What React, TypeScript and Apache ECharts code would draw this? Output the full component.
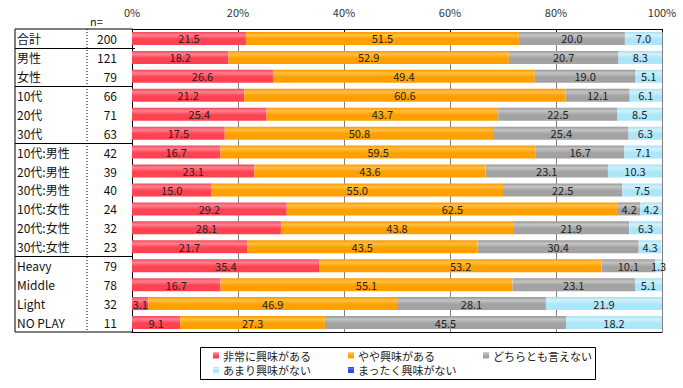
import React, { useEffect, useRef } from "react";
import * as echarts from "echarts";

const categories = ["合計", "男性", "女性", "10代", "20代", "30代", "10代:男性", "20代:男性", "30代:男性", "10代:女性", "20代:女性", "30代:女性", "Heavy", "Middle", "Light", "NO PLAY"];
const sampleSizes = [200, 121, 79, 66, 71, 63, 42, 39, 40, 24, 32, 23, 79, 78, 32, 11];
const seriesNames = ["非常に興味がある", "やや興味がある", "どちらとも言えない", "あまり興味がない", "まったく興味がない"];
const veryInterested = [21.5, 18.2, 26.6, 21.2, 25.4, 17.5, 16.7, 23.1, 15.0, 29.2, 28.1, 21.7, 35.4, 16.7, 3.1, 9.1];
const somewhatInterested = [51.5, 52.9, 49.4, 60.6, 43.7, 50.8, 59.5, 43.6, 55.0, 62.5, 43.8, 43.5, 53.2, 55.1, 46.9, 27.3];
const neither = [20.0, 20.7, 19.0, 12.1, 22.5, 25.4, 16.7, 23.1, 22.5, 4.2, 21.9, 30.4, 10.1, 23.1, 28.1, 45.5];
const notVery = [7.0, 8.3, 5.1, 6.1, 8.5, 6.3, 7.1, 10.3, 7.5, 4.2, 6.3, 4.3, 1.3, 5.1, 21.9, 18.2];
const notAtAll = [0, 0, 0, 0, 0, 0, 0, 0, 0, 0, 0, 0, 0, 0, 0, 0];
const xTicks = [0, 20, 40, 60, 80, 100];

const FONT = "'Noto Sans CJK JP', sans-serif";

const grad = (top: string, mid: string, bot: string) =>
  new echarts.graphic.LinearGradient(0, 0, 0, 1, [
    { offset: 0, color: top },
    { offset: 0.25, color: mid },
    { offset: 0.55, color: bot },
    { offset: 1, color: bot },
  ]);

const colors = [
  grad("#F04858", "#FF8090", "#FF4252"),
  grad("#FF9800", "#FFC040", "#FFA000"),
  grad("#989898", "#C4C4C4", "#A2A2A2"),
  grad("#A8E0F4", "#D0F2FC", "#ACE6FA"),
  grad("#2040E0", "#5070FF", "#2848F0"),
];
const legendColors = ["#F04858", "#FFA000", "#A0A0A0", "#AEE6FA", "#2848F0"];

export default function App() {
  const ref = useRef<HTMLDivElement>(null);
  useEffect(() => {
    const chart = echarts.init(ref.current!, null, { renderer: "svg" });
    const dataSets = [veryInterested, somewhatInterested, neither, notVery, notAtAll];
    const legendPos = [
      [213, 350], [348, 350], [483, 350], [213, 364.5], [348, 364.5],
    ];
    const gridTop = 29, gridBottom = 332, gridLeft = 132;
    const rowH = (gridBottom - gridTop) / categories.length;
    const groupBreaks = [1, 3, 6, 12];
    const graphics: any[] = [
      { type: "line", shape: { x1: 15, y1: gridTop, x2: gridLeft, y2: gridTop }, style: { stroke: "#000", lineWidth: 1 } },
      { type: "line", shape: { x1: 15, y1: gridBottom, x2: gridLeft, y2: gridBottom }, style: { stroke: "#000", lineWidth: 1 } },
      { type: "line", shape: { x1: 15, y1: gridTop, x2: 15, y2: gridBottom }, style: { stroke: "#000", lineWidth: 1 } },
      { type: "line", shape: { x1: 87, y1: gridTop, x2: 87, y2: gridBottom }, style: { stroke: "#000", lineWidth: 1, lineDash: [1, 2] } },
      { type: "text", x: 90, y: 21, style: { text: "n=", font: `11px ${FONT}`, fill: "#222", verticalAlign: "middle" } },
      { type: "rect", shape: { x: 200.5, y: 347.5, width: 395, height: 32 }, style: { fill: "none", stroke: "#000", lineWidth: 1 } },
    ];
    groupBreaks.forEach((k) => {
      const y = Math.round(gridTop + rowH * k) + 0.5;
      graphics.push({ type: "line", shape: { x1: 15, y1: y, x2: gridLeft + (k === 1 ? 3 : 0), y2: y }, style: { stroke: "#000", lineWidth: 1 } });
    });
    chart.setOption({
      animation: false,
      textStyle: { fontFamily: FONT },
      grid: { left: gridLeft, right: 21, top: gridTop, bottom: 388 - gridBottom, containLabel: false },
      legend: seriesNames.map((n, i) => ({
        data: [n],
        left: legendPos[i][0],
        top: legendPos[i][1],
        padding: 0,
        itemWidth: 6,
        itemHeight: 6,
        itemGap: 4,
        icon: "rect",
        selectedMode: false,
        textStyle: { fontSize: 11, color: "#222", fontFamily: FONT, padding: [0, 0, 0, -1] },
      })),
      xAxis: [
        {
          type: "value",
          position: "top",
          min: xTicks[0],
          max: xTicks[xTicks.length - 1],
          interval: xTicks[1] - xTicks[0],
          axisLine: { show: true, lineStyle: { color: "#000", width: 1 } },
          axisTick: { show: true, inside: true, length: 3, lineStyle: { color: "#000" } },
          axisLabel: { formatter: "{value}%", fontSize: 11, color: "#333", margin: 12, fontFamily: FONT },
          splitLine: { show: true, lineStyle: { color: "#808080", width: 1 } },
        },
        {
          type: "value",
          position: "bottom",
          min: 0,
          max: 100,
          interval: 20,
          axisLine: { show: true, lineStyle: { color: "#000", width: 1 } },
          axisTick: { show: false },
          axisLabel: { show: false },
          splitLine: { show: false },
        },
      ],
      yAxis: {
        type: "category",
        inverse: true,
        data: categories,
        axisLine: { show: true, lineStyle: { color: "#000", width: 1 } },
        axisTick: { show: false },
        axisLabel: {
          margin: 15,
          formatter: (v: string, i: number) => `{a|${v}}{b|${sampleSizes[i]}}`,
          rich: {
            a: { width: 70, align: "left", fontSize: 12, color: "#111", fontFamily: FONT },
            b: { width: 30, align: "right", fontSize: 12, color: "#111", fontFamily: FONT },
          },
        },
      },
      series: seriesNames.map((n, i) => ({
        name: n,
        type: "bar",
        stack: "total",
        xAxisIndex: 0,
        barWidth: 13,
        data: dataSets[i],
        itemStyle: { color: colors[i] },
        label: {
          show: true,
          position: "inside",
          fontSize: 11,
          color: "#222",
          fontFamily: FONT,
          formatter: (p: any) => (p.value > 0 ? Number(p.value).toFixed(1) : ""),
        },
        emphasis: { disabled: true },
      })),
      color: legendColors,
      graphic: graphics,
    });
    return () => chart.dispose();
  }, []);
  return <div ref={ref} style={{ position: "fixed", left: 0, top: 0, width: 683, height: 388, background: "#fff" }} />;
}
